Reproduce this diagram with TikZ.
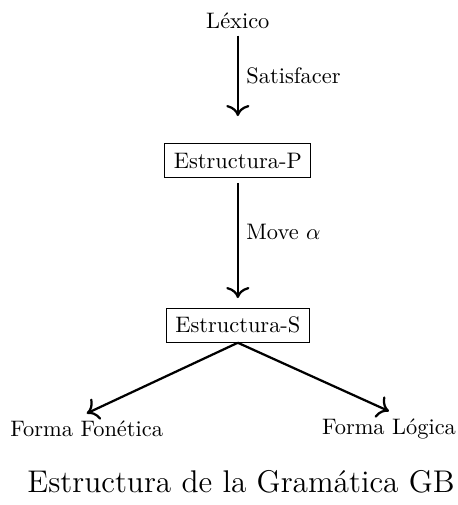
\documentclass[tikz,border=0pt]{standalone}
\usetikzlibrary{arrows.meta}

\tikzset{caja/.style={draw, rectangle, inner sep=4pt},
  texto/.style={inner sep=3pt},
  flecha/.style={-{To[scale=1.3]}, line width=1pt}}

\begin{document}
\begin{tikzpicture}
\useasboundingbox (-3.73,0.32) rectangle (3.45,-7.60);
\node[texto] (lexico) at (0,0) {Léxico};
\node[caja] (estP) at (0,-2.20) {Estructura-P};
\node[caja] (estS) at (0,-4.78) {Estructura-S};
\node[texto] (fonetica) at (-2.37,-6.40) {Forma Fonética};
\node[texto] (logica) at (2.37,-6.40) {Forma Lógica};
\node (titulo) at (0.05,-7.23) {\fontsize{14}{17}\selectfont Estructura de la Gramática GB};
\draw[flecha, shorten >=0.43cm] (lexico) -- node[right, pos=0.37] {Satisfacer} (estP);
\draw[flecha, shorten <=0.08cm, shorten >=0.15cm] (estP) -- node[right, pos=0.42] {Move $\alpha$} (estS);
\draw[flecha] (estS.south) -- (fonetica.north);
\draw[flecha] (estS.south) -- (logica.north);
\end{tikzpicture}
\end{document}
